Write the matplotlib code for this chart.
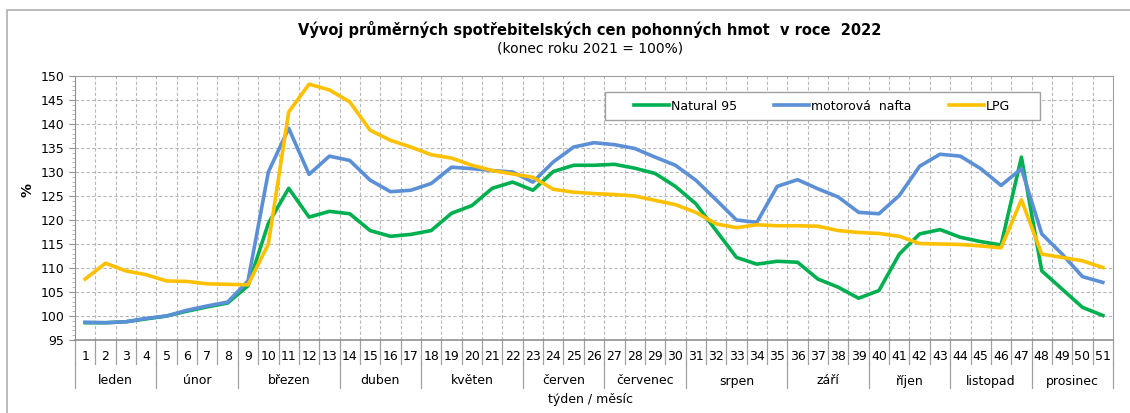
import numpy as np
import matplotlib
matplotlib.use("Agg")
import matplotlib.pyplot as plt
from matplotlib.transforms import blended_transform_factory

# weekly values, end of 2021 = 100 %
weeks = list(range(1, 52))
natural95 = [98.6, 98.6, 98.8, 99.4, 100.0, 101.0, 101.9, 102.7, 106.3, 119.3,
             126.6, 120.6, 121.8, 121.3, 117.8, 116.6, 117.0, 117.8, 121.4, 123.0,
             126.6, 127.9, 126.2, 130.1, 131.4, 131.4, 131.6, 130.8, 129.7, 127.0,
             123.4, 117.8, 112.2, 110.8, 111.4, 111.2, 107.7, 106.0, 103.7, 105.3,
             112.9, 117.1, 118.0, 116.4, 115.5, 114.8, 133.1, 109.4, 105.6, 101.8,
             100.1]
nafta = [98.7, 98.6, 98.8, 99.5, 100.0, 101.2, 102.1, 102.9, 107.3, 130.0,
         139.1, 129.5, 133.3, 132.4, 128.3, 125.9, 126.2, 127.6, 131.0, 130.7,
         130.3, 130.0, 127.9, 132.1, 135.2, 136.1, 135.7, 134.9, 133.1, 131.4,
         128.3, 124.2, 120.0, 119.5, 127.0, 128.4, 126.5, 124.8, 121.6, 121.3,
         125.1, 131.2, 133.7, 133.3, 130.7, 127.2, 130.7, 117.1, 112.9, 108.2,
         107.0]
lpg = [107.7, 111.0, 109.4, 108.6, 107.3, 107.2, 106.7, 106.6, 106.5, 115.0,
       142.5, 148.3, 147.1, 144.6, 138.7, 136.6, 135.2, 133.6, 132.9, 131.4,
       130.3, 129.6, 128.9, 126.4, 125.8, 125.5, 125.3, 125.0, 124.1, 123.2,
       121.6, 119.2, 118.4, 119.0, 118.8, 118.8, 118.7, 117.8, 117.4, 117.2,
       116.6, 115.1, 115.0, 114.9, 114.6, 114.2, 124.2, 112.9, 112.2, 111.5,
       110.1]
months = ["leden", "únor", "březen", "duben", "květen", "červen", "červenec",
          "srpen", "září", "říjen", "listopad", "prosinec"]
month_weeks = [4, 4, 5, 4, 5, 4, 4, 5, 4, 4, 4, 4]

W, H = 1130, 413
fig = plt.figure(figsize=(W / 100, H / 100), dpi=100)
# outer chart border
fig.patches.append(plt.Rectangle((7 / W, -0.1), 1.2, 1 - 10 / H + 0.1,
                                 transform=fig.transFigure, fill=False,
                                 edgecolor="#b0b0b0", lw=1.2))
x0, x1, y0, y1 = 75, 1113, 76, 340
ax = fig.add_axes([x0 / W, 1 - y1 / H, (x1 - x0) / W, (y1 - y0) / H])

ax.plot(weeks, natural95, color="#00B050", lw=2.6, label="Natural 95", zorder=3)
ax.plot(weeks, nafta, color="#5B8FD6", lw=2.6, label="motorová  nafta", zorder=3)
ax.plot(weeks, lpg, color="#FFC000", lw=2.6, label="LPG", zorder=3)

ax.set_xlim(0.5, 51.5)
ax.set_ylim(95, 150)
ax.set_yticks(np.arange(95, 151, 5))
ax.set_yticks(np.arange(95, 151, 1), minor=True)
ax.tick_params(axis="y", which="major", length=4, color="#909090", labelsize=9)
ax.tick_params(axis="y", which="minor", length=2, color="#b0b0b0")
ax.set_xticks([])
for s in ax.spines.values():
    s.set_color("#a0a0a0")
ax.spines["left"].set_color("#909090")
ax.spines["bottom"].set_color("#909090")
ax.spines["bottom"].set_linewidth(1.2)

# grid
for v in np.arange(100, 150, 5):
    ax.axhline(v, color="#b8b8b8", lw=0.8, ls=(0, (3, 2)), zorder=1)
for b in np.arange(1.5, 51.5, 1):
    ax.axvline(b, color="#b8b8b8", lw=0.8, ls=(0, (3, 2)), zorder=1)

# category axis: weeks and months
tr = blended_transform_factory(ax.transData, ax.transAxes)
ph = y1 - y0
for w in weeks:
    ax.text(w, -16 / ph, str(w), transform=tr, ha="center", va="center", fontsize=9)
for b in np.arange(0.5, 52, 1):
    ax.plot([b, b], [0, -24 / ph], transform=tr, color="#a0a0a0", lw=0.9, clip_on=False)
edges = np.concatenate([[0], np.cumsum(month_weeks)]) + 0.5
for i, m in enumerate(months):
    ax.text((edges[i] + edges[i + 1]) / 2, -41 / ph, m, transform=tr,
            ha="center", va="center", fontsize=9)
for b in edges:
    ax.plot([b, b], [-24 / ph, -48 / ph], transform=tr, color="#a0a0a0", lw=0.9, clip_on=False)

fig.text(590 / W, 1 - 400 / H, "týden / měsíc", ha="center", va="center", fontsize=9)
fig.text(28 / W, 1 - 190 / H, "%", ha="center", va="center", fontsize=10,
         fontweight="bold", rotation=90)
fig.text(590 / W, 1 - 30 / H,
         "Vývoj průměrných spotřebitelských cen pohonných hmot  v roce  2022",
         ha="center", va="center", fontsize=10.5, fontweight="bold")
fig.text(590 / W, 1 - 48 / H, "(konec roku 2021 = 100%)", ha="center",
         va="center", fontsize=10)

# legend box and entries
box = plt.Rectangle((605 / W, 1 - 120 / H), 435 / W, 28 / H, transform=fig.transFigure,
                    facecolor="white", edgecolor="#a0a0a0", lw=1.0, zorder=4, clip_on=False)
ax.add_patch(box)
leg = ax.legend(loc="center", bbox_to_anchor=(822 / W, 1 - 106 / H),
                bbox_transform=fig.transFigure, ncol=3, fontsize=9, frameon=False,
                handlelength=2.8, handletextpad=0.15, columnspacing=3.0)
leg.set_zorder(5)

fig.savefig("out.png", dpi=100)
